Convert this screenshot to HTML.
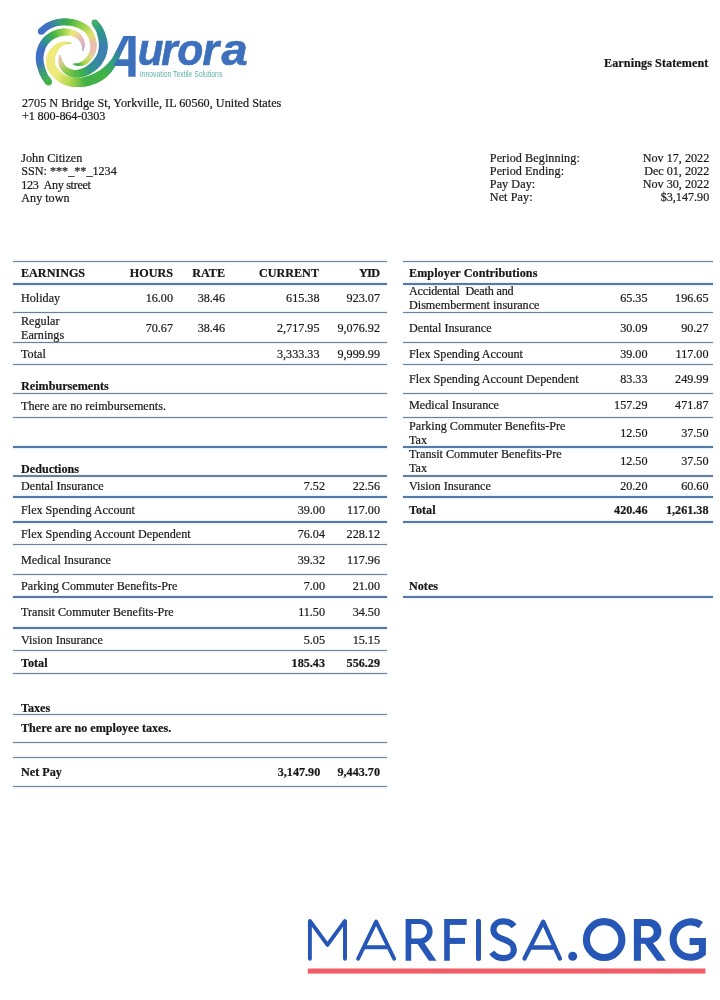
<!DOCTYPE html>
<html><head><meta charset="utf-8"><title>Earnings Statement</title>
<style>
html,body{margin:0;padding:0;background:#fff;}
body{width:720px;height:1000px;position:relative;overflow:hidden;font-family:"Liberation Serif",serif;font-size:12.15px;color:#161616;-webkit-text-stroke:0.22px #262626;}
.t{position:absolute;white-space:nowrap;line-height:14px;}
.b{font-weight:bold;}
.r{text-align:right;}
.ln{position:absolute;height:1.3px;background:#6a8198;box-shadow:0 0 1.2px 0.2px rgba(150,185,225,.55);}
.ln.k{height:2.2px;background:#567aa5;box-shadow:0 0 1.2px 0.2px rgba(150,190,235,.6);}
svg{position:absolute;overflow:visible;}
#doc{position:absolute;left:0;top:0;width:720px;height:1000px;filter:blur(0.35px);}
</style></head><body>
<svg width="720" height="100" viewBox="0 0 720 100" style="left:0;top:0">
<defs><clipPath id="a3c"><rect x="0" y="0" width="112" height="100"/><rect x="0" y="36.1" width="720" height="64"/></clipPath><filter id="lb" x="-5%" y="-5%" width="110%" height="110%"><feGaussianBlur stdDeviation="0.55"/></filter></defs>
<g filter="url(#lb)">
<g clip-path="url(#a3c)"><polygon points="71.7,43.0 71.0,42.8 70.2,42.6 70.1,43.9 71.0,43.8 71.7,43.6" fill="#b8d951"/>
<polygon points="71.0,42.8 70.2,42.6 69.1,42.3 69.0,44.0 70.1,43.9 71.0,43.8" fill="#c1db58"/>
<polygon points="70.2,42.6 69.1,42.3 67.9,42.0 67.8,44.1 69.0,44.0 70.1,43.9" fill="#c9de5e"/>
<polygon points="69.1,42.3 67.9,42.0 66.5,41.8 66.6,44.3 67.8,44.1 69.0,44.0" fill="#d2e165"/>
<polygon points="67.9,42.0 66.5,41.8 65.2,41.7 65.4,44.5 66.6,44.3 67.8,44.1" fill="#dbe36c"/>
<polygon points="66.5,41.8 65.2,41.7 63.8,41.7 64.4,44.8 65.4,44.5 66.6,44.3" fill="#e3e673"/>
<polygon points="65.2,41.7 63.8,41.7 62.5,41.8 63.5,45.2 64.4,44.8 65.4,44.5" fill="#ece979"/>
<polygon points="63.8,41.7 62.5,41.8 61.2,42.0 62.7,45.7 63.5,45.2 64.4,44.8" fill="#efea7c"/>
<polygon points="62.5,41.8 61.2,42.0 60.0,42.4 61.9,46.3 62.7,45.7 63.5,45.2" fill="#efea7c"/>
<polygon points="61.2,42.0 60.0,42.4 58.8,42.8 61.1,46.9 61.9,46.3 62.7,45.7" fill="#efea7c"/>
<polygon points="60.0,42.4 58.8,42.8 57.6,43.3 60.4,47.6 61.1,46.9 61.9,46.3" fill="#efea7c"/>
<polygon points="58.8,42.8 57.6,43.3 56.4,43.9 59.7,48.3 60.4,47.6 61.1,46.9" fill="#efea7c"/>
<polygon points="57.6,43.3 56.4,43.9 55.2,44.6 59.1,49.0 59.7,48.3 60.4,47.6" fill="#efea7c"/>
<polygon points="56.4,43.9 55.2,44.6 54.1,45.5 58.5,49.8 59.1,49.0 59.7,48.3" fill="#efea7c"/>
<polygon points="55.2,44.6 54.1,45.5 53.0,46.4 58.0,50.6 58.5,49.8 59.1,49.0" fill="#efea7c"/>
<polygon points="54.1,45.5 53.0,46.4 52.0,47.4 57.5,51.5 58.0,50.6 58.5,49.8" fill="#efea7c"/>
<polygon points="53.0,46.4 52.0,47.4 51.0,48.6 57.0,52.5 57.5,51.5 58.0,50.6" fill="#efea7c"/>
<polygon points="52.0,47.4 51.0,48.6 50.1,49.8 56.5,53.5 57.0,52.5 57.5,51.5" fill="#efea7c"/>
<polygon points="51.0,48.6 50.1,49.8 49.3,51.2 56.0,54.6 56.5,53.5 57.0,52.5" fill="#efea7c"/>
<polygon points="50.1,49.8 49.3,51.2 48.5,52.5 55.6,55.7 56.0,54.6 56.5,53.5" fill="#efea7c"/>
<polygon points="49.3,51.2 48.5,52.5 47.7,54.0 55.3,56.8 55.6,55.7 56.0,54.6" fill="#efea7c"/>
<polygon points="48.5,52.5 47.7,54.0 47.1,55.4 55.1,57.8 55.3,56.8 55.6,55.7" fill="#efea7c"/>
<polygon points="47.7,54.0 47.1,55.4 46.6,56.9 55.0,58.7 55.1,57.8 55.3,56.8" fill="#efea7c"/>
<polygon points="47.1,55.4 46.6,56.9 46.3,58.4 54.9,59.5 55.0,58.7 55.1,57.8" fill="#efea7c"/>
<polygon points="46.6,56.9 46.3,58.4 46.2,59.9 54.8,60.4 54.9,59.5 55.0,58.7" fill="#efea7c"/>
<polygon points="46.3,58.4 46.2,59.9 46.2,61.4 54.8,61.3 54.8,60.4 54.9,59.5" fill="#efea7c"/>
<polygon points="46.2,59.9 46.2,61.4 46.2,62.9 54.8,62.2 54.8,61.3 54.8,60.4" fill="#efea7c"/>
<polygon points="46.2,61.4 46.2,62.9 46.4,64.4 55.0,63.1 54.8,62.2 54.8,61.3" fill="#efea7c"/>
<polygon points="46.2,62.9 46.4,64.4 46.6,65.8 55.1,63.9 55.0,63.1 54.8,62.2" fill="#efea7c"/>
<polygon points="46.4,64.4 46.6,65.8 47.0,67.2 55.3,64.8 55.1,63.9 55.0,63.1" fill="#efea7c"/>
<polygon points="46.6,65.8 47.0,67.2 47.4,68.5 55.6,65.5 55.3,64.8 55.1,63.9" fill="#efea7c"/>
<polygon points="47.0,67.2 47.4,68.5 48.0,69.9 55.8,66.1 55.6,65.5 55.3,64.8" fill="#efea7c"/>
<polygon points="47.4,68.5 48.0,69.9 48.7,71.2 56.2,66.7 55.8,66.1 55.6,65.5" fill="#efea7c"/>
<polygon points="48.0,69.9 48.7,71.2 49.5,72.3 56.6,67.3 56.2,66.7 55.8,66.1" fill="#efea7c"/>
<polygon points="48.7,71.2 49.5,72.3 50.3,73.4 57.1,68.0 56.6,67.3 56.2,66.7" fill="#efea7c"/>
<polygon points="49.5,72.3 50.3,73.4 51.1,74.4 57.7,68.7 57.1,68.0 56.6,67.3" fill="#efea7c"/>
<polygon points="50.3,73.4 51.1,74.4 51.9,75.3 58.3,69.4 57.7,68.7 57.1,68.0" fill="#efea7c"/>
<polygon points="51.1,74.4 51.9,75.3 52.7,76.2 59.0,70.1 58.3,69.4 57.7,68.7" fill="#efea7c"/>
<polygon points="51.9,75.3 52.7,76.2 53.4,77.0 59.8,70.8 59.0,70.1 58.3,69.4" fill="#efea7c"/>
<polygon points="52.7,76.2 53.4,77.0 54.2,77.8 60.5,71.5 59.8,70.8 59.0,70.1" fill="#efea7c"/>
<polygon points="53.4,77.0 54.2,77.8 55.1,78.6 61.1,72.2 60.5,71.5 59.8,70.8" fill="#efea7c"/>
<polygon points="54.2,77.8 55.1,78.6 55.9,79.4 61.8,72.8 61.1,72.2 60.5,71.5" fill="#ebe979"/>
<polygon points="55.1,78.6 55.9,79.4 56.9,80.2 62.5,73.4 61.8,72.8 61.1,72.2" fill="#e7e776"/>
<polygon points="55.9,79.4 56.9,80.2 57.8,81.0 63.2,73.9 62.5,73.4 61.8,72.8" fill="#e3e672"/>
<polygon points="56.9,80.2 57.8,81.0 58.9,81.8 63.9,74.4 63.2,73.9 62.5,73.4" fill="#dee56f"/>
<polygon points="57.8,81.0 58.9,81.8 60.0,82.5 64.6,74.9 63.9,74.4 63.2,73.9" fill="#dae36c"/>
<polygon points="58.9,81.8 60.0,82.5 61.1,83.1 65.3,75.3 64.6,74.9 63.9,74.4" fill="#d6e268"/>
<polygon points="60.0,82.5 61.1,83.1 62.3,83.7 66.1,75.7 65.3,75.3 64.6,74.9" fill="#d1e165"/>
<polygon points="61.1,83.1 62.3,83.7 63.4,84.3 66.9,76.0 66.1,75.7 65.3,75.3" fill="#cddf61"/>
<polygon points="62.3,83.7 63.4,84.3 64.7,84.7 67.8,76.3 66.9,76.0 66.1,75.7" fill="#c9de5e"/>
<polygon points="63.4,84.3 64.7,84.7 65.9,85.2 68.7,76.7 67.8,76.3 66.9,76.0" fill="#c4dd5b"/>
<polygon points="64.7,84.7 65.9,85.2 67.1,85.6 69.6,76.9 68.7,76.7 67.8,76.3" fill="#c0db57"/>
<polygon points="65.9,85.2 67.1,85.6 68.4,85.9 70.5,77.2 69.6,76.9 68.7,76.7" fill="#bcda54"/>
<polygon points="67.1,85.6 68.4,85.9 69.7,86.2 71.5,77.4 70.5,77.2 69.6,76.9" fill="#b7d951"/>
<polygon points="68.4,85.9 69.7,86.2 70.9,86.4 72.5,77.6 71.5,77.4 70.5,77.2" fill="#b3d74d"/>
<polygon points="69.7,86.2 70.9,86.4 72.2,86.7 73.4,77.7 72.5,77.6 71.5,77.4" fill="#aad44d"/>
<polygon points="70.9,86.4 72.2,86.7 73.6,86.8 74.4,77.8 73.4,77.7 72.5,77.6" fill="#a2d24c"/>
<polygon points="72.2,86.7 73.6,86.8 74.9,86.9 75.4,77.8 74.4,77.8 73.4,77.7" fill="#9acf4c"/>
<polygon points="73.6,86.8 74.9,86.9 76.2,87.0 76.5,77.9 75.4,77.8 74.4,77.8" fill="#91cc4b"/>
<polygon points="74.9,86.9 76.2,87.0 77.5,87.0 77.5,77.9 76.5,77.9 75.4,77.8" fill="#89c94b"/>
<polygon points="76.2,87.0 77.5,87.0 78.8,87.0 78.6,77.8 77.5,77.9 76.5,77.9" fill="#80c64a"/>
<polygon points="77.5,87.0 78.8,87.0 80.1,87.0 79.6,77.8 78.6,77.8 77.5,77.9" fill="#78c449"/>
<polygon points="78.8,87.0 80.1,87.0 81.4,86.9 80.6,77.7 79.6,77.8 78.6,77.8" fill="#70c149"/>
<polygon points="80.1,87.0 81.4,86.9 82.7,86.8 81.6,77.5 80.6,77.7 79.6,77.8" fill="#67be48"/>
<polygon points="81.4,86.9 82.7,86.8 83.9,86.7 82.5,77.4 81.6,77.5 80.6,77.7" fill="#5fbb48"/>
<polygon points="82.7,86.8 83.9,86.7 85.2,86.5 83.5,77.2 82.5,77.4 81.6,77.5" fill="#56b847"/>
<polygon points="83.9,86.7 85.2,86.5 86.4,86.3 84.4,77.0 83.5,77.2 82.5,77.4" fill="#4eb646"/>
<polygon points="85.2,86.5 86.4,86.3 87.6,86.0 85.4,76.8 84.4,77.0 83.5,77.2" fill="#46b346"/>
<polygon points="86.4,86.3 87.6,86.0 88.8,85.7 86.3,76.5 85.4,76.8 84.4,77.0" fill="#42b246"/>
<polygon points="87.6,86.0 88.8,85.7 90.0,85.4 87.3,76.2 86.3,76.5 85.4,76.8" fill="#42b246"/>
<polygon points="88.8,85.7 90.0,85.4 91.1,85.1 88.3,75.9 87.3,76.2 86.3,76.5" fill="#42b246"/>
<polygon points="90.0,85.4 91.1,85.1 92.3,84.7 89.2,75.6 88.3,75.9 87.3,76.2" fill="#42b246"/>
<polygon points="91.1,85.1 92.3,84.7 93.5,84.3 90.2,75.3 89.2,75.6 88.3,75.9" fill="#42b246"/>
<polygon points="92.3,84.7 93.5,84.3 94.7,83.8 91.1,74.9 90.2,75.3 89.2,75.6" fill="#42b246"/>
<polygon points="93.5,84.3 94.7,83.8 95.8,83.4 92.1,74.5 91.1,74.9 90.2,75.3" fill="#42b246"/>
<polygon points="94.7,83.8 95.8,83.4 97.0,82.9 93.0,74.1 92.1,74.5 91.1,74.9" fill="#42b246"/>
<polygon points="95.8,83.4 97.0,82.9 98.1,82.3 94.0,73.7 93.0,74.1 92.1,74.5" fill="#42b246"/>
<polygon points="97.0,82.9 98.1,82.3 99.2,81.8 94.8,73.2 94.0,73.7 93.0,74.1" fill="#42b246"/>
<polygon points="98.1,82.3 99.2,81.8 100.3,81.2 95.7,72.8 94.8,73.2 94.0,73.7" fill="#42b246"/>
<polygon points="99.2,81.8 100.3,81.2 101.4,80.6 96.5,72.3 95.7,72.8 94.8,73.2" fill="#42b246"/>
<polygon points="100.3,81.2 101.4,80.6 102.4,80.0 97.4,71.8 96.5,72.3 95.7,72.8" fill="#42b246"/>
<polygon points="101.4,80.6 102.4,80.0 103.4,79.3 98.2,71.4 97.4,71.8 96.5,72.3" fill="#42b246"/>
<polygon points="102.4,80.0 103.4,79.3 104.3,78.6 99.0,70.9 98.2,71.4 97.4,71.8" fill="#42b246"/>
<polygon points="103.4,79.3 104.3,78.6 105.3,77.9 99.8,70.4 99.0,70.9 98.2,71.4" fill="#42b246"/>
<polygon points="104.3,78.6 105.3,77.9 106.2,77.1 100.6,69.9 99.8,70.4 99.0,70.9" fill="#42b246"/>
<polygon points="105.3,77.9 106.2,77.1 107.1,76.4 101.4,69.3 100.6,69.9 99.8,70.4" fill="#42b246"/>
<polygon points="106.2,77.1 107.1,76.4 107.9,75.6 102.1,68.8 101.4,69.3 100.6,69.9" fill="#42b246"/>
<polygon points="107.1,76.4 107.9,75.6 108.7,74.8 102.8,68.2 102.1,68.8 101.4,69.3" fill="#41b147"/>
<polygon points="107.9,75.6 108.7,74.8 109.5,74.0 103.5,67.7 102.8,68.2 102.1,68.8" fill="#40b04c"/>
<polygon points="108.7,74.8 109.5,74.0 110.3,73.1 104.2,67.1 103.5,67.7 102.8,68.2" fill="#3faf50"/>
<polygon points="109.5,74.0 110.3,73.1 111.0,72.3 104.8,66.5 104.2,67.1 103.5,67.7" fill="#3ead54"/>
<polygon points="110.3,73.1 111.0,72.3 111.7,71.4 105.5,65.9 104.8,66.5 104.2,67.1" fill="#3dac58"/>
<polygon points="111.0,72.3 111.7,71.4 112.3,70.5 106.2,65.3 105.5,65.9 104.8,66.5" fill="#3cab5d"/>
<polygon points="111.7,71.4 112.3,70.5 112.9,69.7 106.8,64.6 106.2,65.3 105.5,65.9" fill="#3caa61"/>
<polygon points="112.3,70.5 112.9,69.7 113.5,68.8 107.5,64.0 106.8,64.6 106.2,65.3" fill="#3ba965"/>
<polygon points="112.9,69.7 113.5,68.8 114.1,68.0 108.1,63.3 107.5,64.0 106.8,64.6" fill="#3aa769"/>
<polygon points="113.5,68.8 114.1,68.0 114.6,67.1 108.7,62.7 108.1,63.3 107.5,64.0" fill="#39a66d"/>
<polygon points="114.1,68.0 114.6,67.1 115.2,66.2 109.3,62.0 108.7,62.7 108.1,63.3" fill="#38a572"/>
<polygon points="114.6,67.1 115.2,66.2 115.7,65.3 109.9,61.3 109.3,62.0 108.7,62.7" fill="#37a375"/>
<polygon points="115.2,66.2 115.7,65.3 116.2,64.4 110.5,60.7 109.9,61.3 109.3,62.0" fill="#36a279"/>
<polygon points="115.7,65.3 116.2,64.4 116.7,63.5 111.0,59.9 110.5,60.7 109.9,61.3" fill="#35a07c"/>
<polygon points="116.2,64.4 116.7,63.5 117.2,62.6 111.6,59.2 111.0,59.9 110.5,60.7" fill="#349e7f"/>
<polygon points="116.7,63.5 117.2,62.6 117.6,61.6 112.2,58.4 111.6,59.2 111.0,59.9" fill="#329c82"/>
<polygon points="117.2,62.6 117.6,61.6 118.1,60.5 112.7,57.6 112.2,58.4 111.6,59.2" fill="#319a85"/>
<polygon points="117.6,61.6 118.1,60.5 118.6,59.5 113.2,56.7 112.7,57.6 112.2,58.4" fill="#309888"/>
<polygon points="118.1,60.5 118.6,59.5 119.1,58.4 113.7,55.8 113.2,56.7 112.7,57.6" fill="#2f978c"/>
<polygon points="118.6,59.5 119.1,58.4 119.6,57.3 114.2,54.8 113.7,55.8 113.2,56.7" fill="#2f9490"/>
<polygon points="119.1,58.4 119.6,57.3 120.0,56.3 114.7,53.8 114.2,54.8 113.7,55.8" fill="#319094"/>
<polygon points="119.6,57.3 120.0,56.3 120.5,55.2 115.2,52.8 114.7,53.8 114.2,54.8" fill="#328c99"/>
<polygon points="120.0,56.3 120.5,55.2 120.9,54.2 115.7,51.8 115.2,52.8 114.7,53.8" fill="#34889e"/>
<polygon points="120.5,55.2 120.9,54.2 121.3,53.2 116.3,50.8 115.7,51.8 115.2,52.8" fill="#3584a3"/>
<polygon points="120.9,54.2 121.3,53.2 121.8,52.3 116.8,49.8 116.3,50.8 115.7,51.8" fill="#3780a8"/>
<polygon points="121.3,53.2 121.8,52.3 122.3,51.3 117.2,48.8 116.8,49.8 116.3,50.8" fill="#397cad"/>
<polygon points="121.8,52.3 122.3,51.3 122.7,50.3 117.7,47.9 117.2,48.8 116.8,49.8" fill="#3a78b1"/>
<polygon points="122.3,51.3 122.7,50.3 123.2,49.4 118.2,46.9 117.7,47.9 117.2,48.8" fill="#3c74b6"/>
<polygon points="122.7,50.3 123.2,49.4 123.7,48.4 118.7,46.0 118.2,46.9 117.7,47.9" fill="#3d70bb"/>
<polygon points="123.2,49.4 123.7,48.4 124.1,47.5 119.1,45.0 118.7,46.0 118.2,46.9" fill="#3e70bc"/>
<polygon points="123.7,48.4 124.1,47.5 124.6,46.5 119.6,44.0 119.1,45.0 118.7,46.0" fill="#3e70bc"/>
<polygon points="124.1,47.5 124.6,46.5 125.1,45.5 120.1,43.1 119.6,44.0 119.1,45.0" fill="#3e70bc"/>
<polygon points="124.6,46.5 125.1,45.5 125.6,44.5 120.6,42.0 120.1,43.1 119.6,44.0" fill="#3e70bc"/>
<polygon points="125.1,45.5 125.6,44.5 126.1,43.5 121.1,41.0 120.6,42.0 120.1,43.1" fill="#3e70bc"/>
<polygon points="125.6,44.5 126.1,43.5 126.7,42.4 121.7,39.9 121.1,41.0 120.6,42.0" fill="#3e70bc"/>
<polygon points="126.1,43.5 126.7,42.4 127.2,41.3 122.2,38.8 121.7,39.9 121.1,41.0" fill="#3e70bc"/>
<polygon points="126.7,42.4 127.2,41.3 127.7,40.3 122.8,37.8 122.2,38.8 121.7,39.9" fill="#3e70bc"/>
<polygon points="127.2,41.3 127.7,40.3 128.2,39.3 123.3,36.8 122.8,37.8 122.2,38.8" fill="#3e70bc"/>
<polygon points="127.7,40.3 128.2,39.3 128.7,38.4 123.7,35.9 123.3,36.8 122.8,37.8" fill="#3e70bc"/>
<polygon points="128.2,39.3 128.7,38.4 129.1,37.5 124.1,35.1 123.7,35.9 123.3,36.8" fill="#3e70bc"/>
<polygon points="128.7,38.4 129.1,37.5 129.4,36.8 124.5,34.3 124.1,35.1 123.7,35.9" fill="#3e70bc"/>
<polygon points="129.1,37.5 129.4,36.8 129.8,36.2 124.8,33.7 124.5,34.3 124.1,35.1" fill="#3e70bc"/>
<polygon points="129.4,36.8 129.8,36.2 130.1,35.6 125.1,33.1 124.8,33.7 124.5,34.3" fill="#3e70bc"/>
<polygon points="129.8,36.2 130.1,35.6 130.3,35.0 125.4,32.6 125.1,33.1 124.8,33.7" fill="#3e70bc"/>
<polygon points="130.1,35.6 130.3,35.0 130.5,34.6 125.6,32.1 125.4,32.6 125.1,33.1" fill="#3e70bc"/>
<polygon points="130.3,35.0 130.5,34.6 130.8,34.2 125.8,31.7 125.6,32.1 125.4,32.6" fill="#3e70bc"/>
<polygon points="130.5,34.6 130.8,34.2 130.9,33.8 126.0,31.4 125.8,31.7 125.6,32.1" fill="#3e70bc"/>
<polygon points="130.8,34.2 130.9,33.8 131.1,33.5 126.1,31.1 126.0,31.4 125.8,31.7" fill="#3e70bc"/>
<polygon points="130.9,33.8 131.1,33.5 131.1,33.5 126.1,31.1 126.1,31.1 126.0,31.4" fill="#3e70bc"/></g>
<polygon points="92.2,24.7 92.6,25.3 93.1,26.0 98.4,22.0 97.8,21.4 97.4,20.9" fill="#3eac6b"/>
<polygon points="92.6,25.3 93.1,26.0 93.6,26.9 99.0,22.8 98.4,22.0 97.8,21.4" fill="#3caa6f"/>
<polygon points="93.1,26.0 93.6,26.9 94.2,27.8 99.8,23.8 99.0,22.8 98.4,22.0" fill="#3aa773"/>
<polygon points="93.6,26.9 94.2,27.8 94.8,28.8 100.6,24.8 99.8,23.8 99.0,22.8" fill="#39a577"/>
<polygon points="94.2,27.8 94.8,28.8 95.4,29.7 101.4,26.0 100.6,24.8 99.8,23.8" fill="#37a27a"/>
<polygon points="94.8,28.8 95.4,29.7 95.9,30.7 102.2,27.2 101.4,26.0 100.6,24.8" fill="#35a07e"/>
<polygon points="95.4,29.7 95.9,30.7 96.3,31.6 102.9,28.4 102.2,27.2 101.4,26.0" fill="#349d82"/>
<polygon points="95.9,30.7 96.3,31.6 96.7,32.5 103.5,29.7 102.9,28.4 102.2,27.2" fill="#329b86"/>
<polygon points="96.3,31.6 96.7,32.5 97.0,33.6 104.1,31.0 103.5,29.7 102.9,28.4" fill="#309889"/>
<polygon points="96.7,32.5 97.0,33.6 97.4,34.8 104.6,32.3 104.1,31.0 103.5,29.7" fill="#2f968d"/>
<polygon points="97.0,33.6 97.4,34.8 97.7,36.0 105.1,33.7 104.6,32.3 104.1,31.0" fill="#2f9490"/>
<polygon points="97.4,34.8 97.7,36.0 98.0,37.2 105.6,35.0 105.1,33.7 104.6,32.3" fill="#309293"/>
<polygon points="97.7,36.0 98.0,37.2 98.3,38.4 106.0,36.4 105.6,35.0 105.1,33.7" fill="#319195"/>
<polygon points="98.0,37.2 98.3,38.4 98.5,39.5 106.4,37.7 106.0,36.4 105.6,35.0" fill="#328f98"/>
<polygon points="98.3,38.4 98.5,39.5 98.7,40.6 106.7,39.0 106.4,37.7 106.0,36.4" fill="#338e9a"/>
<polygon points="98.5,39.5 98.7,40.6 98.8,41.6 107.0,40.2 106.7,39.0 106.4,37.7" fill="#348c9d"/>
<polygon points="98.7,40.6 98.8,41.6 98.9,42.5 107.3,41.5 107.0,40.2 106.7,39.0" fill="#358aa0"/>
<polygon points="98.8,41.6 98.9,42.5 98.9,43.4 107.4,42.7 107.3,41.5 107.0,40.2" fill="#3689a2"/>
<polygon points="98.9,42.5 98.9,43.4 98.9,44.3 107.5,43.8 107.4,42.7 107.3,41.5" fill="#3787a5"/>
<polygon points="98.9,43.4 98.9,44.3 99.0,45.2 107.6,45.0 107.5,43.8 107.4,42.7" fill="#3786a8"/>
<polygon points="98.9,44.3 99.0,45.2 99.0,46.0 107.6,46.1 107.6,45.0 107.5,43.8" fill="#3884aa"/>
<polygon points="99.0,45.2 99.0,46.0 98.9,46.9 107.6,47.2 107.6,46.1 107.6,45.0" fill="#3982ad"/>
<polygon points="99.0,46.0 98.9,46.9 98.9,47.7 107.5,48.3 107.6,47.2 107.6,46.1" fill="#3a81b0"/>
<polygon points="98.9,46.9 98.9,47.7 98.8,48.5 107.4,49.4 107.5,48.3 107.6,47.2" fill="#3b7fb2"/>
<polygon points="98.9,47.7 98.8,48.5 98.7,49.2 107.3,50.5 107.4,49.4 107.5,48.3" fill="#3b7fb3"/>
<polygon points="98.8,48.5 98.7,49.2 98.6,50.0 107.1,51.5 107.3,50.5 107.4,49.4" fill="#3b7fb2"/>
<polygon points="98.7,49.2 98.6,50.0 98.4,50.7 106.9,52.6 107.1,51.5 107.3,50.5" fill="#3b80b1"/>
<polygon points="98.6,50.0 98.4,50.7 98.3,51.4 106.7,53.6 106.9,52.6 107.1,51.5" fill="#3b80b1"/>
<polygon points="98.4,50.7 98.3,51.4 98.1,52.1 106.4,54.7 106.7,53.6 106.9,52.6" fill="#3b81b0"/>
<polygon points="98.3,51.4 98.1,52.1 97.8,52.8 106.0,55.7 106.4,54.7 106.7,53.6" fill="#3b81af"/>
<polygon points="98.1,52.1 97.8,52.8 97.6,53.5 105.6,56.7 106.0,55.7 106.4,54.7" fill="#3b82ae"/>
<polygon points="97.8,52.8 97.6,53.5 97.2,54.2 105.2,57.8 105.6,56.7 106.0,55.7" fill="#3b82ad"/>
<polygon points="97.6,53.5 97.2,54.2 96.9,54.9 104.7,58.8 105.2,57.8 105.6,56.7" fill="#3b83ac"/>
<polygon points="97.2,54.2 96.9,54.9 96.5,55.7 104.2,59.8 104.7,58.8 105.2,57.8" fill="#3b83ac"/>
<polygon points="96.9,54.9 96.5,55.7 96.1,56.4 103.6,60.8 104.2,59.8 104.7,58.8" fill="#3b84ab"/>
<polygon points="96.5,55.7 96.1,56.4 95.6,57.2 103.0,61.8 103.6,60.8 104.2,59.8" fill="#3b84aa"/>
<polygon points="96.1,56.4 95.6,57.2 95.1,57.9 102.4,62.8 103.0,61.8 103.6,60.8" fill="#3b85a9"/>
<polygon points="95.6,57.2 95.1,57.9 94.6,58.6 101.8,63.8 102.4,62.8 103.0,61.8" fill="#3b85a8"/>
<polygon points="95.1,57.9 94.6,58.6 94.1,59.3 101.1,64.7 101.8,63.8 102.4,62.8" fill="#3a86a7"/>
<polygon points="94.6,58.6 94.1,59.3 93.6,60.0 100.4,65.6 101.1,64.7 101.8,63.8" fill="#3987a5"/>
<polygon points="94.1,59.3 93.6,60.0 93.0,60.6 99.7,66.4 100.4,65.6 101.1,64.7" fill="#3888a3"/>
<polygon points="93.6,60.0 93.0,60.6 92.5,61.2 98.9,67.2 99.7,66.4 100.4,65.6" fill="#378aa1"/>
<polygon points="93.0,60.6 92.5,61.2 91.9,61.9 98.1,68.0 98.9,67.2 99.7,66.4" fill="#368b9e"/>
<polygon points="92.5,61.2 91.9,61.9 91.3,62.5 97.3,68.8 98.1,68.0 98.9,67.2" fill="#358d9c"/>
<polygon points="91.9,61.9 91.3,62.5 90.7,63.1 96.4,69.6 97.3,68.8 98.1,68.0" fill="#348e9a"/>
<polygon points="91.3,62.5 90.7,63.1 90.1,63.6 95.5,70.3 96.4,69.6 97.3,68.8" fill="#338f97"/>
<polygon points="90.7,63.1 90.1,63.6 89.4,64.2 94.6,71.0 95.5,70.3 96.4,69.6" fill="#329195"/>
<polygon points="90.1,63.6 89.4,64.2 88.7,64.8 93.6,71.6 94.6,71.0 95.5,70.3" fill="#319293"/>
<polygon points="89.4,64.2 88.7,64.8 87.9,65.4 92.7,72.3 93.6,71.6 94.6,71.0" fill="#309491"/>
<polygon points="88.7,64.8 87.9,65.4 87.1,65.9 91.6,73.0 92.7,72.3 93.6,71.6" fill="#2f958e"/>
<polygon points="87.9,65.4 87.1,65.9 86.3,66.5 90.6,73.6 91.6,73.0 92.7,72.3" fill="#309789"/>
<polygon points="87.1,65.9 86.3,66.5 85.5,67.0 89.5,74.2 90.6,73.6 91.6,73.0" fill="#329a82"/>
<polygon points="86.3,66.5 85.5,67.0 84.7,67.5 88.3,74.8 89.5,74.2 90.6,73.6" fill="#349d7a"/>
<polygon points="85.5,67.0 84.7,67.5 83.9,67.9 87.2,75.3 88.3,74.8 89.5,74.2" fill="#36a073"/>
<polygon points="84.7,67.5 83.9,67.9 83.0,68.2 86.0,75.8 87.2,75.3 88.3,74.8" fill="#38a36b"/>
<polygon points="83.9,67.9 83.0,68.2 82.2,68.6 84.7,76.2 86.0,75.8 87.2,75.3" fill="#3aa664"/>
<polygon points="83.0,68.2 82.2,68.6 81.3,68.9 83.5,76.5 84.7,76.2 86.0,75.8" fill="#3ca95c"/>
<polygon points="82.2,68.6 81.3,68.9 80.3,69.2 82.2,76.8 83.5,76.5 84.7,76.2" fill="#3eac55"/>
<polygon points="81.3,68.9 80.3,69.2 79.3,69.5 81.0,77.1 82.2,76.8 83.5,76.5" fill="#3faf4d"/>
<polygon points="80.3,69.2 79.3,69.5 78.4,69.7 79.7,77.3 81.0,77.1 82.2,76.8" fill="#41b146"/>
<polygon points="79.3,69.5 78.4,69.7 77.4,69.8 78.4,77.5 79.7,77.3 81.0,77.1" fill="#46b346"/>
<polygon points="78.4,69.7 77.4,69.8 76.6,70.0 77.1,77.6 78.4,77.5 79.7,77.3" fill="#4bb546"/>
<polygon points="77.4,69.8 76.6,70.0 75.8,70.0 75.8,77.6 77.1,77.6 78.4,77.5" fill="#50b747"/>
<polygon points="76.6,70.0 75.8,70.0 75.1,70.0 74.5,77.5 75.8,77.6 77.1,77.6" fill="#55b847"/>
<polygon points="75.8,70.0 75.1,70.0 74.3,70.0 73.3,77.4 74.5,77.5 75.8,77.6" fill="#59ba47"/>
<polygon points="75.1,70.0 74.3,70.0 73.6,69.9 72.1,77.1 73.3,77.4 74.5,77.5" fill="#5ebc48"/>
<polygon points="74.3,70.0 73.6,69.9 72.8,69.8 71.0,76.8 72.1,77.1 73.3,77.4" fill="#63bd48"/>
<polygon points="73.6,69.9 72.8,69.8 72.1,69.6 69.9,76.4 71.0,76.8 72.1,77.1" fill="#68bf49"/>
<polygon points="72.8,69.8 72.1,69.6 71.4,69.4 68.9,76.0 69.9,76.4 71.0,76.8" fill="#6dc149"/>
<polygon points="72.1,69.6 71.4,69.4 70.7,69.2 67.9,75.5 68.9,76.0 69.9,76.4" fill="#72c249"/>
<polygon points="71.4,69.4 70.7,69.2 70.0,69.0 67.0,75.0 67.9,75.5 68.9,76.0" fill="#76c44a"/>
<polygon points="70.7,69.2 70.0,69.0 69.4,68.8 66.1,74.4 67.0,75.0 67.9,75.5" fill="#7bc64a"/>
<polygon points="70.0,69.0 69.4,68.8 68.8,68.5 65.2,73.8 66.1,74.4 67.0,75.0" fill="#80c74b"/>
<polygon points="69.4,68.8 68.8,68.5 68.2,68.1 64.4,73.1 65.2,73.8 66.1,74.4" fill="#85c94b"/>
<polygon points="68.8,68.5 68.2,68.1 67.6,67.8 63.6,72.4 64.4,73.1 65.2,73.8" fill="#8acb4b"/>
<polygon points="68.2,68.1 67.6,67.8 67.1,67.3 62.9,71.6 63.6,72.4 64.4,73.1" fill="#90cc4f"/>
<polygon points="67.6,67.8 67.1,67.3 66.5,66.9 62.3,70.9 62.9,71.6 63.6,72.4" fill="#96cc55"/>
<polygon points="67.1,67.3 66.5,66.9 66.0,66.4 61.7,70.1 62.3,70.9 62.9,71.6" fill="#9dcc5b"/>
<polygon points="66.5,66.9 66.0,66.4 65.5,65.9 61.1,69.3 61.7,70.1 62.3,70.9" fill="#a3cc61"/>
<polygon points="66.0,66.4 65.5,65.9 65.1,65.4 60.6,68.4 61.1,69.3 61.7,70.1" fill="#aacc67"/>
<polygon points="65.5,65.9 65.1,65.4 64.7,64.9 60.1,67.5 60.6,68.4 61.1,69.3" fill="#b1cc6d"/>
<polygon points="65.1,65.4 64.7,64.9 64.3,64.3 59.7,66.6 60.1,67.5 60.6,68.4" fill="#b7cc73"/>
<polygon points="64.7,64.9 64.3,64.3 63.9,63.7 59.3,65.7 59.7,66.6 60.1,67.5" fill="#becc78"/>
<polygon points="64.3,64.3 63.9,63.7 63.5,63.0 59.0,64.8 59.3,65.7 59.7,66.6" fill="#c4cc7e"/>
<polygon points="63.9,63.7 63.5,63.0 63.2,62.3 58.8,63.9 59.0,64.8 59.3,65.7" fill="#cbcc84"/>
<polygon points="63.5,63.0 63.2,62.3 62.8,61.6 58.6,62.9 58.8,63.9 59.0,64.8" fill="#d2cc8a"/>
<polygon points="63.2,62.3 62.8,61.6 62.4,61.0 58.6,62.0 58.6,62.9 58.8,63.9" fill="#d8cb90"/>
<polygon points="62.8,61.6 62.4,61.0 62.1,60.3 58.6,61.0 58.6,62.0 58.6,62.9" fill="#daca93"/>
<polygon points="62.4,61.0 62.1,60.3 61.8,59.6 58.6,60.0 58.6,61.0 58.6,62.0" fill="#dcc897"/>
<polygon points="62.1,60.3 61.8,59.6 61.5,58.7 58.7,59.0 58.6,60.0 58.6,61.0" fill="#dec79a"/>
<polygon points="61.8,59.6 61.5,58.7 61.2,57.9 58.8,58.0 58.7,59.0 58.6,60.0" fill="#e0c69e"/>
<polygon points="61.5,58.7 61.2,57.9 61.0,57.0 59.0,57.1 58.8,58.0 58.7,59.0" fill="#e2c4a2"/>
<polygon points="61.2,57.9 61.0,57.0 60.8,56.2 59.2,56.3 59.0,57.1 58.8,58.0" fill="#e4c3a5"/>
<polygon points="61.0,57.0 60.8,56.2 60.5,55.6 59.3,55.6 59.2,56.3 59.0,57.1" fill="#e6c1a9"/>
<polygon points="60.8,56.2 60.5,55.6 60.3,55.1 59.5,55.1 59.3,55.6 59.2,56.3" fill="#e8c0ac"/>
<polygon points="60.5,55.6 60.3,55.1 60.3,55.1 59.5,55.1 59.5,55.1 59.3,55.6" fill="#eabeb0"/>
<circle cx="94.8" cy="22.8" r="3.2" fill="#3fae6a"/>
<polygon points="51.4,80.0 51.0,79.5 50.5,78.8 45.0,82.9 45.5,83.5 45.8,84.0" fill="#41b148"/>
<polygon points="51.0,79.5 50.5,78.8 50.0,78.1 44.4,82.1 45.0,82.9 45.5,83.5" fill="#41af4c"/>
<polygon points="50.5,78.8 50.0,78.1 49.4,77.2 43.8,81.3 44.4,82.1 45.0,82.9" fill="#41ad50"/>
<polygon points="50.0,78.1 49.4,77.2 48.8,76.4 43.1,80.3 43.8,81.3 44.4,82.1" fill="#40ac54"/>
<polygon points="49.4,77.2 48.8,76.4 48.2,75.5 42.4,79.3 43.1,80.3 43.8,81.3" fill="#40aa59"/>
<polygon points="48.8,76.4 48.2,75.5 47.7,74.7 41.7,78.2 42.4,79.3 43.1,80.3" fill="#40a85d"/>
<polygon points="48.2,75.5 47.7,74.7 47.3,73.9 41.1,77.1 41.7,78.2 42.4,79.3" fill="#3fa761"/>
<polygon points="47.7,74.7 47.3,73.9 46.9,73.1 40.6,76.1 41.1,77.1 41.7,78.2" fill="#3fa565"/>
<polygon points="47.3,73.9 46.9,73.1 46.6,72.2 40.1,75.0 40.6,76.1 41.1,77.1" fill="#3fa36a"/>
<polygon points="46.9,73.1 46.6,72.2 46.2,71.3 39.6,73.9 40.1,75.0 40.6,76.1" fill="#3fa06f"/>
<polygon points="46.6,72.2 46.2,71.3 45.8,70.4 39.2,72.8 39.6,73.9 40.1,75.0" fill="#3f9d76"/>
<polygon points="46.2,71.3 45.8,70.4 45.5,69.4 38.8,71.7 39.2,72.8 39.6,73.9" fill="#3f997c"/>
<polygon points="45.8,70.4 45.5,69.4 45.2,68.4 38.4,70.7 38.8,71.7 39.2,72.8" fill="#3f9583"/>
<polygon points="45.5,69.4 45.2,68.4 44.9,67.5 38.1,69.6 38.4,70.7 38.8,71.7" fill="#409189"/>
<polygon points="45.2,68.4 44.9,67.5 44.6,66.6 37.8,68.6 38.1,69.6 38.4,70.7" fill="#408d90"/>
<polygon points="44.9,67.5 44.6,66.6 44.4,65.7 37.5,67.7 37.8,68.6 38.1,69.6" fill="#408a96"/>
<polygon points="44.6,66.6 44.4,65.7 44.2,64.8 37.2,66.7 37.5,67.7 37.8,68.6" fill="#40869d"/>
<polygon points="44.4,65.7 44.2,64.8 44.0,64.0 36.9,65.7 37.2,66.7 37.5,67.7" fill="#4082a3"/>
<polygon points="44.2,64.8 44.0,64.0 43.8,63.2 36.7,64.8 36.9,65.7 37.2,66.7" fill="#417eaa"/>
<polygon points="44.0,64.0 43.8,63.2 43.7,62.4 36.5,63.8 36.7,64.8 36.9,65.7" fill="#417bb1"/>
<polygon points="43.8,63.2 43.7,62.4 43.5,61.7 36.3,62.8 36.5,63.8 36.7,64.8" fill="#4177b7"/>
<polygon points="43.7,62.4 43.5,61.7 43.4,60.9 36.1,61.8 36.3,62.8 36.5,63.8" fill="#4173be"/>
<polygon points="43.5,61.7 43.4,60.9 43.4,60.2 36.0,60.8 36.1,61.8 36.3,62.8" fill="#4270c4"/>
<polygon points="43.4,60.9 43.4,60.2 43.3,59.4 35.9,59.8 36.0,60.8 36.1,61.8" fill="#4270c4"/>
<polygon points="43.4,60.2 43.3,59.4 43.3,58.7 35.9,58.9 35.9,59.8 36.0,60.8" fill="#4270c4"/>
<polygon points="43.3,59.4 43.3,58.7 43.3,58.0 35.9,57.9 35.9,58.9 35.9,59.8" fill="#4270c4"/>
<polygon points="43.3,58.7 43.3,58.0 43.3,57.3 35.9,57.0 35.9,57.9 35.9,58.9" fill="#4270c4"/>
<polygon points="43.3,58.0 43.3,57.3 43.4,56.6 35.9,56.0 35.9,57.0 35.9,57.9" fill="#4270c4"/>
<polygon points="43.3,57.3 43.4,56.6 43.5,55.8 36.0,55.0 35.9,56.0 35.9,57.0" fill="#4270c4"/>
<polygon points="43.4,56.6 43.5,55.8 43.6,55.1 36.1,54.0 36.0,55.0 35.9,56.0" fill="#4270c4"/>
<polygon points="43.5,55.8 43.6,55.1 43.7,54.4 36.3,53.0 36.1,54.0 36.0,55.0" fill="#4270c4"/>
<polygon points="43.6,55.1 43.7,54.4 43.9,53.6 36.5,52.0 36.3,53.0 36.1,54.0" fill="#4270c4"/>
<polygon points="43.7,54.4 43.9,53.6 44.1,52.7 36.7,51.0 36.5,52.0 36.3,53.0" fill="#4270c4"/>
<polygon points="43.9,53.6 44.1,52.7 44.3,51.9 36.9,50.0 36.7,51.0 36.5,52.0" fill="#4270c4"/>
<polygon points="44.1,52.7 44.3,51.9 44.5,51.1 37.2,48.9 36.9,50.0 36.7,51.0" fill="#4270c4"/>
<polygon points="44.3,51.9 44.5,51.1 44.7,50.3 37.6,47.9 37.2,48.9 36.9,50.0" fill="#4270c4"/>
<polygon points="44.5,51.1 44.7,50.3 45.0,49.5 37.9,46.9 37.6,47.9 37.2,48.9" fill="#4270c4"/>
<polygon points="44.7,50.3 45.0,49.5 45.3,48.7 38.3,45.8 37.9,46.9 37.6,47.9" fill="#4072c1"/>
<polygon points="45.0,49.5 45.3,48.7 45.6,48.0 38.8,44.8 38.3,45.8 37.9,46.9" fill="#3f75bb"/>
<polygon points="45.3,48.7 45.6,48.0 46.0,47.3 39.3,43.8 38.8,44.8 38.3,45.8" fill="#3d79b6"/>
<polygon points="45.6,48.0 46.0,47.3 46.3,46.6 39.8,42.9 39.3,43.8 38.8,44.8" fill="#3b7db1"/>
<polygon points="46.0,47.3 46.3,46.6 46.7,45.9 40.4,41.9 39.8,42.9 39.3,43.8" fill="#3981ab"/>
<polygon points="46.3,46.6 46.7,45.9 47.2,45.2 40.9,41.0 40.4,41.9 39.8,42.9" fill="#3784a6"/>
<polygon points="46.7,45.9 47.2,45.2 47.6,44.5 41.6,40.2 40.9,41.0 40.4,41.9" fill="#3588a0"/>
<polygon points="47.2,45.2 47.6,44.5 48.1,43.9 42.2,39.3 41.6,40.2 40.9,41.0" fill="#338c9b"/>
<polygon points="47.6,44.5 48.1,43.9 48.6,43.3 42.9,38.5 42.2,39.3 41.6,40.2" fill="#319096"/>
<polygon points="48.1,43.9 48.6,43.3 49.1,42.7 43.5,37.7 42.9,38.5 42.2,39.3" fill="#309390"/>
<polygon points="48.6,43.3 49.1,42.7 49.5,42.2 44.3,37.0 43.5,37.7 42.9,38.5" fill="#2f978b"/>
<polygon points="49.1,42.7 49.5,42.2 50.0,41.7 45.0,36.2 44.3,37.0 43.5,37.7" fill="#319984"/>
<polygon points="49.5,42.2 50.0,41.7 50.5,41.2 45.8,35.6 45.0,36.2 44.3,37.0" fill="#339c7e"/>
<polygon points="50.0,41.7 50.5,41.2 51.1,40.8 46.6,35.0 45.8,35.6 45.0,36.2" fill="#349e77"/>
<polygon points="50.5,41.2 51.1,40.8 51.6,40.4 47.3,34.4 46.6,35.0 45.8,35.6" fill="#36a171"/>
<polygon points="51.1,40.8 51.6,40.4 52.2,40.0 48.1,33.9 47.3,34.4 46.6,35.0" fill="#38a36a"/>
<polygon points="51.6,40.4 52.2,40.0 52.9,39.5 48.9,33.3 48.1,33.9 47.3,34.4" fill="#39a664"/>
<polygon points="52.2,40.0 52.9,39.5 53.5,39.1 49.7,32.9 48.9,33.3 48.1,33.9" fill="#3ba85e"/>
<polygon points="52.9,39.5 53.5,39.1 54.1,38.8 50.5,32.4 49.7,32.9 48.9,33.3" fill="#3dab57"/>
<polygon points="53.5,39.1 54.1,38.8 54.8,38.4 51.4,31.9 50.5,32.4 49.7,32.9" fill="#3fad51"/>
<polygon points="54.1,38.8 54.8,38.4 55.4,38.1 52.2,31.5 51.4,31.9 50.5,32.4" fill="#40b04a"/>
<polygon points="54.8,38.4 55.4,38.1 56.1,37.7 53.1,31.1 52.2,31.5 51.4,31.9" fill="#43b246"/>
<polygon points="55.4,38.1 56.1,37.7 56.8,37.4 54.0,30.7 53.1,31.1 52.2,31.5" fill="#4ab546"/>
<polygon points="56.1,37.7 56.8,37.4 57.5,37.2 54.9,30.4 54.0,30.7 53.1,31.1" fill="#51b747"/>
<polygon points="56.8,37.4 57.5,37.2 58.2,36.9 55.8,30.0 54.9,30.4 54.0,30.7" fill="#58ba47"/>
<polygon points="57.5,37.2 58.2,36.9 58.9,36.7 56.7,29.7 55.8,30.0 54.9,30.4" fill="#5fbd48"/>
<polygon points="58.2,36.9 58.9,36.7 59.6,36.4 57.7,29.5 56.7,29.7 55.8,30.0" fill="#66bf48"/>
<polygon points="58.9,36.7 59.6,36.4 60.3,36.2 58.7,29.2 57.7,29.5 56.7,29.7" fill="#6dc249"/>
<polygon points="59.6,36.4 60.3,36.2 61.1,36.1 59.6,29.0 58.7,29.2 57.7,29.5" fill="#73c449"/>
<polygon points="60.3,36.2 61.1,36.1 61.9,35.9 60.6,28.9 59.6,29.0 58.7,29.2" fill="#7ac74a"/>
<polygon points="61.1,36.1 61.9,35.9 62.6,35.7 61.6,28.7 60.6,28.9 59.6,29.0" fill="#81c94a"/>
<polygon points="61.9,35.9 62.6,35.7 63.4,35.6 62.7,28.6 61.6,28.7 60.6,28.9" fill="#88cc4b"/>
<polygon points="62.6,35.7 63.4,35.6 64.2,35.5 63.7,28.6 62.7,28.6 61.6,28.7" fill="#8fcf4c"/>
<polygon points="63.4,35.6 64.2,35.5 64.9,35.4 64.7,28.6 63.7,28.6 62.7,28.6" fill="#98d150"/>
<polygon points="64.2,35.5 64.9,35.4 65.6,35.4 65.7,28.6 64.7,28.6 63.7,28.6" fill="#a0d354"/>
<polygon points="64.9,35.4 65.6,35.4 66.4,35.4 66.7,28.7 65.7,28.6 64.7,28.6" fill="#a9d659"/>
<polygon points="65.6,35.4 66.4,35.4 67.2,35.4 67.7,28.8 66.7,28.7 65.7,28.6" fill="#b1d85d"/>
<polygon points="66.4,35.4 67.2,35.4 67.9,35.4 68.7,28.9 67.7,28.8 66.7,28.7" fill="#badb61"/>
<polygon points="67.2,35.4 67.9,35.4 68.7,35.5 69.7,29.1 68.7,28.9 67.7,28.8" fill="#c2dd65"/>
<polygon points="67.9,35.4 68.7,35.5 69.5,35.6 70.7,29.3 69.7,29.1 68.7,28.9" fill="#cbe06a"/>
<polygon points="68.7,35.5 69.5,35.6 70.2,35.7 71.6,29.5 70.7,29.3 69.7,29.1" fill="#d4e26e"/>
<polygon points="69.5,35.6 70.2,35.7 70.9,35.8 72.5,29.8 71.6,29.5 70.7,29.3" fill="#dce472"/>
<polygon points="70.2,35.7 70.9,35.8 71.5,36.0 73.4,30.1 72.5,29.8 71.6,29.5" fill="#e5e777"/>
<polygon points="70.9,35.8 71.5,36.0 72.2,36.2 74.3,30.4 73.4,30.1 72.5,29.8" fill="#ede97b"/>
<polygon points="71.5,36.0 72.2,36.2 72.9,36.4 75.2,30.8 74.3,30.4 73.4,30.1" fill="#eee77f"/>
<polygon points="72.2,36.2 72.9,36.4 73.5,36.7 76.1,31.2 75.2,30.8 74.3,30.4" fill="#eee383"/>
<polygon points="72.9,36.4 73.5,36.7 74.1,36.9 76.9,31.7 76.1,31.2 75.2,30.8" fill="#eee087"/>
<polygon points="73.5,36.7 74.1,36.9 74.7,37.2 77.7,32.1 76.9,31.7 76.1,31.2" fill="#eedd8b"/>
<polygon points="74.1,36.9 74.7,37.2 75.3,37.5 78.4,32.6 77.7,32.1 76.9,31.7" fill="#edda8f"/>
<polygon points="74.7,37.2 75.3,37.5 75.8,37.8 79.2,33.2 78.4,32.6 77.7,32.1" fill="#edd693"/>
<polygon points="75.3,37.5 75.8,37.8 76.3,38.1 79.9,33.8 79.2,33.2 78.4,32.6" fill="#edd397"/>
<polygon points="75.8,37.8 76.3,38.1 76.8,38.5 80.5,34.4 79.9,33.8 79.2,33.2" fill="#edd09b"/>
<polygon points="76.3,38.1 76.8,38.5 77.3,38.8 81.1,35.0 80.5,34.4 79.9,33.8" fill="#edcc9f"/>
<polygon points="76.8,38.5 77.3,38.8 77.8,39.2 81.6,35.7 81.1,35.0 80.5,34.4" fill="#ecc9a3"/>
<polygon points="77.3,38.8 77.8,39.2 78.2,39.6 82.1,36.5 81.6,35.7 81.1,35.0" fill="#ecc6a7"/>
<polygon points="77.8,39.2 78.2,39.6 78.7,40.0 82.6,37.2 82.1,36.5 81.6,35.7" fill="#ecc3ab"/>
<polygon points="78.2,39.6 78.7,40.0 79.1,40.5 83.0,37.9 82.6,37.2 82.1,36.5" fill="#ecbfaf"/>
<polygon points="78.7,40.0 79.1,40.5 79.5,40.9 83.3,38.7 83.0,37.9 82.6,37.2" fill="#eabdb2"/>
<polygon points="79.1,40.5 79.5,40.9 79.8,41.4 83.7,39.5 83.3,38.7 83.0,37.9" fill="#e7bcb3"/>
<polygon points="79.5,40.9 79.8,41.4 80.2,41.9 83.9,40.3 83.7,39.5 83.3,38.7" fill="#e5bbb4"/>
<polygon points="79.8,41.4 80.2,41.9 80.5,42.5 84.2,41.1 83.9,40.3 83.7,39.5" fill="#e2b9b6"/>
<polygon points="80.2,41.9 80.5,42.5 80.8,43.0 84.4,41.9 84.2,41.1 83.9,40.3" fill="#dfb8b7"/>
<polygon points="80.5,42.5 80.8,43.0 81.1,43.6 84.5,42.7 84.4,41.9 84.2,41.1" fill="#dcb7b8"/>
<polygon points="80.8,43.0 81.1,43.6 81.3,44.3 84.6,43.5 84.5,42.7 84.4,41.9" fill="#d9b6b9"/>
<polygon points="81.1,43.6 81.3,44.3 81.5,44.9 84.7,44.3 84.6,43.5 84.5,42.7" fill="#d6b4bb"/>
<polygon points="81.3,44.3 81.5,44.9 81.7,45.5 84.7,45.1 84.7,44.3 84.6,43.5" fill="#d4b3bc"/>
<polygon points="81.5,44.9 81.7,45.5 81.9,46.1 84.6,46.0 84.7,45.1 84.7,44.3" fill="#d1b2bd"/>
<polygon points="81.7,45.5 81.9,46.1 82.0,46.8 84.5,46.9 84.6,46.0 84.7,45.1" fill="#ceb1be"/>
<polygon points="81.9,46.1 82.0,46.8 82.1,47.6 84.3,47.7 84.5,46.9 84.6,46.0" fill="#cbafc0"/>
<polygon points="82.0,46.8 82.1,47.6 82.2,48.3 84.0,48.5 84.3,47.7 84.5,46.9" fill="#c8aec1"/>
<polygon points="82.1,47.6 82.2,48.3 82.3,49.1 83.8,49.3 84.0,48.5 84.3,47.7" fill="#c5adc2"/>
<polygon points="82.2,48.3 82.3,49.1 82.3,49.8 83.5,50.0 83.8,49.3 84.0,48.5" fill="#c2acc3"/>
<polygon points="82.3,49.1 82.3,49.8 82.4,50.4 83.3,50.5 83.5,50.0 83.8,49.3" fill="#c0abc4"/>
<polygon points="82.3,49.8 82.4,50.4 82.5,50.9 83.1,50.9 83.3,50.5 83.5,50.0" fill="#bda9c6"/>
<polygon points="82.4,50.4 82.5,50.9 82.5,50.9 83.1,50.9 83.1,50.9 83.3,50.5" fill="#baa8c7"/>
<circle cx="48.6" cy="82.0" r="3.4" fill="#42b246"/>
<polygon points="43.3,33.9 43.8,33.5 44.5,32.9 40.1,28.0 39.5,28.5 39.1,28.9" fill="#4270c4"/>
<polygon points="43.8,33.5 44.5,32.9 45.2,32.3 40.8,27.3 40.1,28.0 39.5,28.5" fill="#4270c4"/>
<polygon points="44.5,32.9 45.2,32.3 46.0,31.6 41.6,26.6 40.8,27.3 40.1,28.0" fill="#4270c4"/>
<polygon points="45.2,32.3 46.0,31.6 46.8,30.9 42.6,25.8 41.6,26.6 40.8,27.3" fill="#4270c4"/>
<polygon points="46.0,31.6 46.8,30.9 47.6,30.3 43.6,25.0 42.6,25.8 41.6,26.6" fill="#4270c4"/>
<polygon points="46.8,30.9 47.6,30.3 48.4,29.7 44.6,24.2 43.6,25.0 42.6,25.8" fill="#4270c4"/>
<polygon points="47.6,30.3 48.4,29.7 49.1,29.3 45.7,23.5 44.6,24.2 43.6,25.0" fill="#4270c4"/>
<polygon points="48.4,29.7 49.1,29.3 49.9,28.8 46.7,23.0 45.7,23.5 44.6,24.2" fill="#4270c4"/>
<polygon points="49.1,29.3 49.9,28.8 50.7,28.4 47.8,22.4 46.7,23.0 45.7,23.5" fill="#4170c2"/>
<polygon points="49.9,28.8 50.7,28.4 51.6,28.0 48.9,21.9 47.8,22.4 46.7,23.0" fill="#4174bc"/>
<polygon points="50.7,28.4 51.6,28.0 52.5,27.6 50.0,21.4 48.9,21.9 47.8,22.4" fill="#4078b5"/>
<polygon points="51.6,28.0 52.5,27.6 53.5,27.2 51.1,21.0 50.0,21.4 48.9,21.9" fill="#3f7caf"/>
<polygon points="52.5,27.6 53.5,27.2 54.4,26.9 52.3,20.6 51.1,21.0 50.0,21.4" fill="#3e80a8"/>
<polygon points="53.5,27.2 54.4,26.9 55.4,26.6 53.5,20.2 52.3,20.6 51.1,21.0" fill="#3e84a2"/>
<polygon points="54.4,26.9 55.4,26.6 56.4,26.3 54.6,19.9 53.5,20.2 52.3,20.6" fill="#3d889b"/>
<polygon points="55.4,26.6 56.4,26.3 57.3,26.1 55.8,19.6 54.6,19.9 53.5,20.2" fill="#3c8c95"/>
<polygon points="56.4,26.3 57.3,26.1 58.4,25.9 57.0,19.3 55.8,19.6 54.6,19.9" fill="#3b918e"/>
<polygon points="57.3,26.1 58.4,25.9 59.4,25.7 58.2,19.1 57.0,19.3 55.8,19.6" fill="#3a9587"/>
<polygon points="58.4,25.9 59.4,25.7 60.4,25.5 59.5,18.9 58.2,19.1 57.0,19.3" fill="#3a9981"/>
<polygon points="59.4,25.7 60.4,25.5 61.4,25.4 60.8,18.7 59.5,18.9 58.2,19.1" fill="#3a9c7a"/>
<polygon points="60.4,25.5 61.4,25.4 62.5,25.3 62.1,18.6 60.8,18.7 59.5,18.9" fill="#3b9f73"/>
<polygon points="61.4,25.4 62.5,25.3 63.6,25.3 63.4,18.5 62.1,18.6 60.8,18.7" fill="#3ca26c"/>
<polygon points="62.5,25.3 63.6,25.3 64.7,25.3 64.7,18.5 63.4,18.5 62.1,18.6" fill="#3da465"/>
<polygon points="63.6,25.3 64.7,25.3 65.8,25.3 66.1,18.6 64.7,18.5 63.4,18.5" fill="#3ea75e"/>
<polygon points="64.7,25.3 65.8,25.3 67.1,25.4 67.5,18.6 66.1,18.6 64.7,18.5" fill="#3faa57"/>
<polygon points="65.8,25.3 67.1,25.4 68.3,25.5 68.9,18.7 67.5,18.6 66.1,18.6" fill="#40ad50"/>
<polygon points="67.1,25.4 68.3,25.5 69.6,25.6 70.4,18.9 68.9,18.7 67.5,18.6" fill="#41b049"/>
<polygon points="68.3,25.5 69.6,25.6 70.8,25.8 71.9,19.1 70.4,18.9 68.9,18.7" fill="#45b346"/>
<polygon points="69.6,25.6 70.8,25.8 72.0,26.0 73.3,19.3 71.9,19.1 70.4,18.9" fill="#4eb646"/>
<polygon points="70.8,25.8 72.0,26.0 73.2,26.3 74.8,19.7 73.3,19.3 71.9,19.1" fill="#56b947"/>
<polygon points="72.0,26.0 73.2,26.3 74.3,26.6 76.3,20.0 74.8,19.7 73.3,19.3" fill="#5fbc47"/>
<polygon points="73.2,26.3 74.3,26.6 75.5,26.9 77.7,20.5 76.3,20.0 74.8,19.7" fill="#67bf48"/>
<polygon points="74.3,26.6 75.5,26.9 76.7,27.3 79.1,21.0 77.7,20.5 76.3,20.0" fill="#70c249"/>
<polygon points="75.5,26.9 76.7,27.3 77.9,27.8 80.5,21.6 79.1,21.0 77.7,20.5" fill="#78c549"/>
<polygon points="76.7,27.3 77.9,27.8 79.0,28.3 81.9,22.2 80.5,21.6 79.1,21.0" fill="#81c84a"/>
<polygon points="77.9,27.8 79.0,28.3 80.2,28.9 83.2,22.9 81.9,22.2 80.5,21.6" fill="#89cc4a"/>
<polygon points="79.0,28.3 80.2,28.9 81.2,29.4 84.6,23.6 83.2,22.9 81.9,22.2" fill="#92cf4b"/>
<polygon points="80.2,28.9 81.2,29.4 82.2,30.0 85.8,24.4 84.6,23.6 83.2,22.9" fill="#9ad24c"/>
<polygon points="81.2,29.4 82.2,30.0 83.0,30.6 87.0,25.2 85.8,24.4 84.6,23.6" fill="#a1d34f"/>
<polygon points="82.2,30.0 83.0,30.6 83.8,31.2 88.1,26.1 87.0,25.2 85.8,24.4" fill="#a7d551"/>
<polygon points="83.0,30.6 83.8,31.2 84.4,31.8 89.1,27.0 88.1,26.1 87.0,25.2" fill="#aed754"/>
<polygon points="83.8,31.2 84.4,31.8 85.1,32.4 90.0,28.0 89.1,27.0 88.1,26.1" fill="#b4d957"/>
<polygon points="84.4,31.8 85.1,32.4 85.7,33.1 90.8,29.0 90.0,28.0 89.1,27.0" fill="#bbda5a"/>
<polygon points="85.1,32.4 85.7,33.1 86.2,33.8 91.6,30.0 90.8,29.0 90.0,28.0" fill="#c2dc5d"/>
<polygon points="85.7,33.1 86.2,33.8 86.8,34.6 92.3,31.0 91.6,30.0 90.8,29.0" fill="#c8de60"/>
<polygon points="86.2,33.8 86.8,34.6 87.3,35.4 92.9,32.0 92.3,31.0 91.6,30.0" fill="#cfdf63"/>
<polygon points="86.8,34.6 87.3,35.4 87.7,36.2 93.5,33.0 92.9,32.0 92.3,31.0" fill="#d6e166"/>
<polygon points="87.3,35.4 87.7,36.2 88.1,36.9 94.0,34.1 93.5,33.0 92.9,32.0" fill="#dce369"/>
<polygon points="87.7,36.2 88.1,36.9 88.5,37.8 94.5,35.3 94.0,34.1 93.5,33.0" fill="#dfe16f"/>
<polygon points="88.1,36.9 88.5,37.8 88.8,38.6 95.0,36.5 94.5,35.3 94.0,34.1" fill="#e1dd76"/>
<polygon points="88.5,37.8 88.8,38.6 89.2,39.5 95.3,37.6 95.0,36.5 94.5,35.3" fill="#e2d97e"/>
<polygon points="88.8,38.6 89.2,39.5 89.4,40.5 95.7,38.8 95.3,37.6 95.0,36.5" fill="#e4d586"/>
<polygon points="89.2,39.5 89.4,40.5 89.7,41.4 95.9,39.9 95.7,38.8 95.3,37.6" fill="#e5d18d"/>
<polygon points="89.4,40.5 89.7,41.4 89.9,42.3 96.2,41.0 95.9,39.9 95.7,38.8" fill="#e6cd95"/>
<polygon points="89.7,41.4 89.9,42.3 90.0,43.1 96.4,42.1 96.2,41.0 95.9,39.9" fill="#e8c89d"/>
<polygon points="89.9,42.3 90.0,43.1 90.2,43.9 96.5,43.1 96.4,42.1 96.2,41.0" fill="#e9c4a4"/>
<polygon points="90.0,43.1 90.2,43.9 90.3,44.7 96.6,44.2 96.5,43.1 96.4,42.1" fill="#ebc0ac"/>
<polygon points="90.2,43.9 90.3,44.7 90.3,45.4 96.6,45.2 96.6,44.2 96.5,43.1" fill="#ecbeb2"/>
<polygon points="90.3,44.7 90.3,45.4 90.4,46.2 96.6,46.2 96.6,45.2 96.6,44.2" fill="#ecbeb2"/>
<polygon points="90.3,45.4 90.4,46.2 90.4,46.9 96.5,47.2 96.6,46.2 96.6,45.2" fill="#ecbeb2"/>
<polygon points="90.4,46.2 90.4,46.9 90.4,47.6 96.4,48.2 96.5,47.2 96.6,46.2" fill="#ecbeb2"/>
<polygon points="90.4,46.9 90.4,47.6 90.3,48.3 96.3,49.1 96.4,48.2 96.5,47.2" fill="#ecbeb2"/>
<polygon points="90.4,47.6 90.3,48.3 90.3,49.0 96.1,50.0 96.3,49.1 96.4,48.2" fill="#ecbeb2"/>
<polygon points="90.3,48.3 90.3,49.0 90.2,49.6 95.9,50.9 96.1,50.0 96.3,49.1" fill="#ecbeb2"/>
<polygon points="90.3,49.0 90.2,49.6 90.0,50.2 95.7,51.8 95.9,50.9 96.1,50.0" fill="#ecbeb2"/>
<polygon points="90.2,49.6 90.0,50.2 89.9,50.8 95.4,52.7 95.7,51.8 95.9,50.9" fill="#ecbeb2"/>
<polygon points="90.0,50.2 89.9,50.8 89.7,51.4 95.0,53.5 95.4,52.7 95.7,51.8" fill="#eac1ad"/>
<polygon points="89.9,50.8 89.7,51.4 89.5,52.0 94.7,54.2 95.0,53.5 95.4,52.7" fill="#e8c4a8"/>
<polygon points="89.7,51.4 89.5,52.0 89.3,52.6 94.3,55.0 94.7,54.2 95.0,53.5" fill="#e6c7a3"/>
<polygon points="89.5,52.0 89.3,52.6 89.0,53.2 93.9,55.7 94.3,55.0 94.7,54.2" fill="#e5ca9e"/>
<polygon points="89.3,52.6 89.0,53.2 88.7,53.8 93.5,56.4 93.9,55.7 94.3,55.0" fill="#e3cd99"/>
<polygon points="89.0,53.2 88.7,53.8 88.4,54.4 93.1,57.1 93.5,56.4 93.9,55.7" fill="#e1d194"/>
<polygon points="88.7,53.8 88.4,54.4 88.1,55.0 92.6,57.8 93.1,57.1 93.5,56.4" fill="#e0d48f"/>
<polygon points="88.4,54.4 88.1,55.0 87.7,55.6 92.1,58.5 92.6,57.8 93.1,57.1" fill="#ded78a"/>
<polygon points="88.1,55.0 87.7,55.6 87.3,56.1 91.6,59.2 92.1,58.5 92.6,57.8" fill="#dcda85"/>
<polygon points="87.7,55.6 87.3,56.1 87.0,56.7 91.0,59.9 91.6,59.2 92.1,58.5" fill="#d9db80"/>
<polygon points="87.3,56.1 87.0,56.7 86.6,57.2 90.5,60.6 91.0,59.9 91.6,59.2" fill="#d5db7b"/>
<polygon points="87.0,56.7 86.6,57.2 86.1,57.8 89.9,61.2 90.5,60.6 91.0,59.9" fill="#d1da76"/>
<polygon points="86.6,57.2 86.1,57.8 85.7,58.2 89.3,61.8 89.9,61.2 90.5,60.6" fill="#ceda71"/>
<polygon points="86.1,57.8 85.7,58.2 85.3,58.7 88.6,62.3 89.3,61.8 89.9,61.2" fill="#cada6c"/>
<polygon points="85.7,58.2 85.3,58.7 84.8,59.1 88.0,62.9 88.6,62.3 89.3,61.8" fill="#c6d966"/>
<polygon points="85.3,58.7 84.8,59.1 84.3,59.6 87.3,63.4 88.0,62.9 88.6,62.3" fill="#c2d961"/>
<polygon points="84.8,59.1 84.3,59.6 83.9,60.0 86.6,63.8 87.3,63.4 88.0,62.9" fill="#bed95c"/>
<polygon points="84.3,59.6 83.9,60.0 83.4,60.5 85.9,64.2 86.6,63.8 87.3,63.4" fill="#bad857"/>
<polygon points="83.9,60.0 83.4,60.5 82.9,60.9 85.1,64.6 85.9,64.2 86.6,63.8" fill="#b6d852"/>
<polygon points="83.4,60.5 82.9,60.9 82.4,61.2 84.4,64.9 85.1,64.6 85.9,64.2" fill="#b1d74d"/>
<polygon points="82.9,60.9 82.4,61.2 81.9,61.6 83.7,65.2 84.4,64.9 85.1,64.6" fill="#a6d34d"/>
<polygon points="82.4,61.2 81.9,61.6 81.4,61.8 83.0,65.5 83.7,65.2 84.4,64.9" fill="#9bcf4c"/>
<polygon points="81.9,61.6 81.4,61.8 81.0,62.1 82.2,65.7 83.0,65.5 83.7,65.2" fill="#90cc4b"/>
<polygon points="81.4,61.8 81.0,62.1 80.5,62.3 81.5,65.8 82.2,65.7 83.0,65.5" fill="#85c84a"/>
<polygon points="81.0,62.1 80.5,62.3 80.0,62.5 80.8,65.9 81.5,65.8 82.2,65.7" fill="#7ac449"/>
<polygon points="80.5,62.3 80.0,62.5 79.5,62.7 80.1,66.0 80.8,65.9 81.5,65.8" fill="#6fc149"/>
<polygon points="80.0,62.5 79.5,62.7 79.0,62.9 79.4,66.1 80.1,66.0 80.8,65.9" fill="#64bd48"/>
<polygon points="79.5,62.7 79.0,62.9 78.4,63.0 78.8,66.1 79.4,66.1 80.1,66.0" fill="#59b947"/>
<polygon points="79.0,62.9 78.4,63.0 77.9,63.1 78.1,66.1 78.8,66.1 79.4,66.1" fill="#4eb646"/>
<polygon points="78.4,63.0 77.9,63.1 77.4,63.3 77.3,66.0 78.1,66.1 78.8,66.1" fill="#43b246"/>
<polygon points="77.9,63.1 77.4,63.3 76.8,63.4 76.6,65.8 77.3,66.0 78.1,66.1" fill="#42b246"/>
<polygon points="77.4,63.3 76.8,63.4 76.1,63.5 75.8,65.6 76.6,65.8 77.3,66.0" fill="#42b246"/>
<polygon points="76.8,63.4 76.1,63.5 75.4,63.5 75.1,65.3 75.8,65.6 76.6,65.8" fill="#42b246"/>
<polygon points="76.1,63.5 75.4,63.5 74.7,63.6 74.5,65.1 75.1,65.3 75.8,65.6" fill="#42b246"/>
<polygon points="75.4,63.5 74.7,63.6 74.1,63.6 73.9,64.8 74.5,65.1 75.1,65.3" fill="#42b246"/>
<polygon points="74.7,63.6 74.1,63.6 73.5,63.7 73.4,64.6 73.9,64.8 74.5,65.1" fill="#42b246"/>
<polygon points="74.1,63.6 73.5,63.7 73.1,63.8 73.1,64.4 73.4,64.6 73.9,64.8" fill="#42b246"/>
<polygon points="73.5,63.7 73.1,63.8 73.1,63.8 73.1,64.4 73.1,64.4 73.4,64.6" fill="#42b246"/>
<circle cx="41.2" cy="31.4" r="3.3" fill="#4270c4"/>
<path d="M128.3 36.1 H135.6 V76.7 H128.3 Z M117.0 59.3 H129 V66.0 H113.4 Z" fill="#3e70bc"/>
<text transform="translate(137.8,64.6) scale(0.935,1)" font-family="Liberation Sans, sans-serif" font-weight="bold" font-style="italic" font-size="45" fill="#3e70bc" stroke="#3e70bc" stroke-width="0.7">u</text><text transform="translate(161.2,64.6) scale(0.935,1)" font-family="Liberation Sans, sans-serif" font-weight="bold" font-style="italic" font-size="45" fill="#3e70bc" stroke="#3e70bc" stroke-width="0.7">r</text><text transform="translate(177.3,64.6) scale(0.95,1)" font-family="Liberation Sans, sans-serif" font-weight="bold" font-style="italic" font-size="45" fill="#3e70bc" stroke="#3e70bc" stroke-width="0.7">o</text><text transform="translate(202.4,64.6) scale(0.95,1)" font-family="Liberation Sans, sans-serif" font-weight="bold" font-style="italic" font-size="45" fill="#3e70bc" stroke="#3e70bc" stroke-width="0.7">r</text><text transform="translate(221.6,64.6) scale(1.045,1)" font-family="Liberation Sans, sans-serif" font-weight="bold" font-style="italic" font-size="45" fill="#3e70bc" stroke="#3e70bc" stroke-width="0.7">a</text>
<text x="139.8" y="76.6" font-family="Liberation Sans, sans-serif" font-size="9.8" fill="#4aaaa0" textLength="82.5" lengthAdjust="spacingAndGlyphs" opacity="0.9">Innovation Textile Solutions</text>
</g>
</svg>
<div id="doc">
<div class="t b r" style="right:11.50px;top:55.70px;letter-spacing:0.09px;">Earnings Statement</div>
<div class="t" style="left:21.90px;top:95.90px;letter-spacing:0.03px;">2705 N Bridge St, Yorkville, IL 60560, United States</div>
<div class="t" style="left:21.90px;top:109.10px;letter-spacing:-0.1px;">+1 800-864-0303</div>
<div class="t" style="left:21.30px;top:150.90px;letter-spacing:0px;">John Citizen</div>
<div class="t" style="left:21.30px;top:164.20px;letter-spacing:0px;">SSN: ***_**_1234</div>
<div class="t" style="left:21.30px;top:177.50px;letter-spacing:-0.3px;">123&nbsp; Any street</div>
<div class="t" style="left:21.30px;top:190.80px;letter-spacing:0px;">Any town</div>
<div class="t" style="left:489.80px;top:150.60px;letter-spacing:0.08px;">Period Beginning:</div>
<div class="t r" style="right:10.80px;top:150.60px;">Nov 17, 2022</div>
<div class="t" style="left:489.80px;top:163.75px;letter-spacing:0.08px;">Period Ending:</div>
<div class="t r" style="right:10.80px;top:163.75px;">Dec 01, 2022</div>
<div class="t" style="left:489.80px;top:176.90px;letter-spacing:0.08px;">Pay Day:</div>
<div class="t r" style="right:10.80px;top:176.90px;">Nov 30, 2022</div>
<div class="t" style="left:489.80px;top:190.05px;letter-spacing:0.08px;">Net Pay:</div>
<div class="t r" style="right:10.80px;top:190.05px;">$3,147.90</div>
<div class="ln" style="left:13px;width:374px;top:260.8px"></div>
<div class="ln k" style="left:13px;width:374px;top:283.0px"></div>
<div class="ln" style="left:13px;width:374px;top:311.8px"></div>
<div class="ln" style="left:13px;width:374px;top:341.8px"></div>
<div class="ln" style="left:13px;width:374px;top:364.0px"></div>
<div class="ln" style="left:13px;width:374px;top:392.8px"></div>
<div class="ln" style="left:13px;width:374px;top:416.8px"></div>
<div class="ln k" style="left:13px;width:374px;top:446.2px"></div>
<div class="ln" style="left:13px;width:374px;top:475.4px"></div>
<div class="ln k" style="left:13px;width:374px;top:496.0px"></div>
<div class="ln k" style="left:13px;width:374px;top:521.0px"></div>
<div class="ln" style="left:13px;width:374px;top:543.8px"></div>
<div class="ln" style="left:13px;width:374px;top:573.8px"></div>
<div class="ln k" style="left:13px;width:374px;top:596.0px"></div>
<div class="ln k" style="left:13px;width:374px;top:627.0px"></div>
<div class="ln" style="left:13px;width:374px;top:649.8px"></div>
<div class="ln" style="left:13px;width:374px;top:672.8px"></div>
<div class="ln" style="left:13px;width:374px;top:713.8px"></div>
<div class="ln" style="left:13px;width:374px;top:741.8px"></div>
<div class="ln" style="left:13px;width:374px;top:757.0px"></div>
<div class="ln" style="left:13px;width:374px;top:786.0px"></div>
<div class="t b" style="left:21.00px;top:265.50px;">EARNINGS</div>
<div class="t b r" style="right:547.00px;top:265.50px;">HOURS</div>
<div class="t b r" style="right:495.00px;top:265.50px;">RATE</div>
<div class="t b r" style="right:401.00px;top:265.50px;">CURRENT</div>
<div class="t b r" style="right:342.30px;top:265.50px;letter-spacing:-2.3px;">YTD</div>
<div class="t" style="left:21.00px;top:290.90px;">Holiday</div>
<div class="t r" style="right:547.00px;top:290.90px;">16.00</div>
<div class="t r" style="right:495.00px;top:290.90px;">38.46</div>
<div class="t r" style="right:400.50px;top:290.90px;">615.38</div>
<div class="t r" style="right:340.00px;top:290.90px;">923.07</div>
<div class="t" style="left:21.00px;top:314.30px;">Regular</div>
<div class="t" style="left:21.00px;top:327.50px;">Earnings</div>
<div class="t" style="left:21.00px;top:320.90px;"></div>
<div class="t r" style="right:547.00px;top:320.90px;">70.67</div>
<div class="t r" style="right:495.00px;top:320.90px;">38.46</div>
<div class="t r" style="right:400.50px;top:320.90px;">2,717.95</div>
<div class="t r" style="right:340.00px;top:320.90px;">9,076.92</div>
<div class="t" style="left:21.00px;top:346.90px;">Total</div>
<div class="t r" style="right:400.50px;top:346.90px;">3,333.33</div>
<div class="t r" style="right:340.00px;top:346.90px;">9,999.99</div>
<div class="t b" style="left:21.00px;top:378.90px;">Reimbursements</div>
<div class="t" style="left:21.00px;top:398.70px;">There are no reimbursements.</div>
<div class="t b" style="left:21.00px;top:461.50px;">Deductions</div>
<div class="t" style="left:21.00px;top:478.90px;">Dental Insurance</div>
<div class="t r" style="right:395.00px;top:478.90px;">7.52</div>
<div class="t r" style="right:340.00px;top:478.90px;">22.56</div>
<div class="t" style="left:21.00px;top:502.90px;">Flex Spending Account</div>
<div class="t r" style="right:395.00px;top:502.90px;">39.00</div>
<div class="t r" style="right:340.00px;top:502.90px;">117.00</div>
<div class="t" style="left:21.00px;top:526.90px;">Flex Spending Account Dependent</div>
<div class="t r" style="right:395.00px;top:526.90px;">76.04</div>
<div class="t r" style="right:340.00px;top:526.90px;">228.12</div>
<div class="t" style="left:21.00px;top:552.50px;">Medical Insurance</div>
<div class="t r" style="right:395.00px;top:552.50px;">39.32</div>
<div class="t r" style="right:340.00px;top:552.50px;">117.96</div>
<div class="t" style="left:21.00px;top:578.90px;">Parking Commuter Benefits-Pre</div>
<div class="t r" style="right:395.00px;top:578.90px;">7.00</div>
<div class="t r" style="right:340.00px;top:578.90px;">21.00</div>
<div class="t" style="left:21.00px;top:605.30px;">Transit Commuter Benefits-Pre</div>
<div class="t r" style="right:395.00px;top:605.30px;">11.50</div>
<div class="t r" style="right:340.00px;top:605.30px;">34.50</div>
<div class="t" style="left:21.00px;top:632.50px;">Vision Insurance</div>
<div class="t r" style="right:395.00px;top:632.50px;">5.05</div>
<div class="t r" style="right:340.00px;top:632.50px;">15.15</div>
<div class="t b" style="left:21.00px;top:655.50px;">Total</div>
<div class="t b r" style="right:395.00px;top:655.50px;">185.43</div>
<div class="t b r" style="right:340.00px;top:655.50px;">556.29</div>
<div class="t b" style="left:21.00px;top:700.50px;">Taxes</div>
<div class="t b" style="left:21.00px;top:721.30px;">There are no employee taxes.</div>
<div class="t b" style="left:21.00px;top:764.90px;">Net Pay</div>
<div class="t b r" style="right:399.80px;top:764.90px;">3,147.90</div>
<div class="t b r" style="right:340.00px;top:764.90px;">9,443.70</div>
<div class="ln" style="left:403px;width:310px;top:260.8px"></div>
<div class="ln k" style="left:403px;width:310px;top:283.0px"></div>
<div class="ln" style="left:403px;width:310px;top:311.8px"></div>
<div class="ln" style="left:403px;width:310px;top:341.8px"></div>
<div class="ln" style="left:403px;width:310px;top:364.0px"></div>
<div class="ln" style="left:403px;width:310px;top:392.8px"></div>
<div class="ln" style="left:403px;width:310px;top:416.8px"></div>
<div class="ln k" style="left:403px;width:310px;top:446.2px"></div>
<div class="ln" style="left:403px;width:310px;top:475.4px"></div>
<div class="ln k" style="left:403px;width:310px;top:496.0px"></div>
<div class="ln k" style="left:403px;width:310px;top:521.0px"></div>
<div class="ln k" style="left:403px;width:310px;top:596.0px"></div>
<div class="t b" style="left:409.00px;top:265.50px;letter-spacing:0.07px;">Employer Contributions</div>
<div class="t" style="left:409.00px;top:283.50px;letter-spacing:-0.18px;">Accidental&nbsp; Death and</div>
<div class="t" style="left:409.00px;top:297.90px;">Dismemberment insurance</div>
<div class="t r" style="right:72.50px;top:290.90px;">65.35</div>
<div class="t r" style="right:11.50px;top:290.90px;">196.65</div>
<div class="t" style="left:409.00px;top:320.50px;">Dental Insurance</div>
<div class="t r" style="right:72.50px;top:320.50px;">30.09</div>
<div class="t r" style="right:11.50px;top:320.50px;">90.27</div>
<div class="t" style="left:409.00px;top:346.90px;">Flex Spending Account</div>
<div class="t r" style="right:72.50px;top:346.90px;">39.00</div>
<div class="t r" style="right:11.50px;top:346.90px;">117.00</div>
<div class="t" style="left:409.00px;top:371.90px;">Flex Spending Account Dependent</div>
<div class="t r" style="right:72.50px;top:371.90px;">83.33</div>
<div class="t r" style="right:11.50px;top:371.90px;">249.99</div>
<div class="t" style="left:409.00px;top:398.30px;">Medical Insurance</div>
<div class="t r" style="right:72.50px;top:398.30px;">157.29</div>
<div class="t r" style="right:11.50px;top:398.30px;">471.87</div>
<div class="t" style="left:409.00px;top:418.90px;">Parking Commuter Benefits-Pre</div>
<div class="t" style="left:409.00px;top:432.90px;">Tax</div>
<div class="t r" style="right:72.50px;top:425.90px;">12.50</div>
<div class="t r" style="right:11.50px;top:425.90px;">37.50</div>
<div class="t" style="left:409.00px;top:446.50px;">Transit Commuter Benefits-Pre</div>
<div class="t" style="left:409.00px;top:460.90px;">Tax</div>
<div class="t r" style="right:72.50px;top:453.90px;">12.50</div>
<div class="t r" style="right:11.50px;top:453.90px;">37.50</div>
<div class="t" style="left:409.00px;top:478.90px;">Vision Insurance</div>
<div class="t r" style="right:72.50px;top:478.90px;">20.20</div>
<div class="t r" style="right:11.50px;top:478.90px;">60.60</div>
<div class="t b" style="left:409.00px;top:502.50px;">Total</div>
<div class="t b r" style="right:72.50px;top:502.50px;">420.46</div>
<div class="t b r" style="right:11.50px;top:502.50px;">1,261.38</div>
<div class="t b" style="left:409.00px;top:578.90px;">Notes</div>
</div>
<svg width="720" height="1000" viewBox="0 0 720 1000" style="left:0;top:0">
<defs><clipPath id="cap"><rect x="300" y="919.0" width="420" height="41.700000000000045"/></clipPath>
<filter id="wb" x="-2%" y="-10%" width="104%" height="120%"><feGaussianBlur stdDeviation="0.45"/></filter></defs>
<g filter="url(#wb)">
<path fill="none" stroke="#2556b6" stroke-width="3.9" stroke-linecap="round" stroke-linejoin="round" d="M309.9 958.75 V920.95 L327.45 944.9 L345.0 920.95 V958.75" />
<path fill="none" stroke="#2556b6" stroke-width="3.9" stroke-linecap="round" stroke-linejoin="round" d="M358.1 958.75 L376.1 921.5500000000001 L394.2 958.75 M363.69 947.2 H388.58" />
<path fill="none" stroke="#2556b6" stroke-width="5.6" stroke-linecap="butt" stroke-linejoin="miter" d="M408.40000000000003 966V914" clip-path="url(#cap)"/>
<path fill="#2556b6" fill-rule="evenodd" clip-path="url(#cap)" d="M408 919.0 H420.1 A12.5 12.5 0 0 1 420.1 944 H408 Z M411.2 924.0 H419.6 A7.4 7.25 0 0 1 419.6 938.5 H411.2 Z"/>
<path fill="none" stroke="#2556b6" stroke-width="6.2" stroke-linecap="butt" stroke-linejoin="miter" d="M419.4 941.2 L436.4 966.2" clip-path="url(#cap)"/>
<path fill="none" stroke="#2556b6" stroke-width="5.6" stroke-linecap="butt" stroke-linejoin="miter" d="M447.0 966V914" clip-path="url(#cap)"/>
<rect x="447.0" y="919.0" width="19.70" height="5.9" fill="#2556b6"/>
<rect x="447.0" y="937.9" width="18.00" height="6.0" fill="#2556b6"/>
<path fill="none" stroke="#2556b6" stroke-width="5.0" stroke-linecap="round" stroke-linejoin="round" d="M478.5 921.3 V958.4000000000001" />
<path fill="none" stroke="#2556b6" stroke-width="6.2" stroke-linecap="butt" d="M514.0 926.4 C511.4 923.0 507.6 921.3 503.4 921.3 C497.4 921.3 493.4 925.0 493.4 929.8 C493.4 935.0 497.2 937.4 503.4 939.3 C510.0 941.3 513.8 943.8 513.8 949.4 C513.8 954.6 509.6 958.2 503.6 958.2 C498.6 958.2 494.6 956.2 491.8 952.4"/>
<path fill="none" stroke="#2556b6" stroke-width="4.3" stroke-linecap="round" stroke-linejoin="round" d="M524.5 958.5500000000001 L543.2 921.75 L559.9 958.5500000000001 M530.12 947.5 H554.89" />
<circle cx="572.7" cy="956.2" r="4.5" fill="#2556b6"/>
<ellipse cx="604.15" cy="939.55" rx="17.75" ry="17.90" fill="none" stroke="#2556b6" stroke-width="7.1"/>
<path fill="none" stroke="#2556b6" stroke-width="7.0" stroke-linecap="butt" stroke-linejoin="miter" d="M637.4 966V914" clip-path="url(#cap)"/>
<path fill="#2556b6" fill-rule="evenodd" clip-path="url(#cap)" d="M637 919.0 H649.2 A12.2 12.35 0 0 1 649.2 943.7 H637 Z M640.8 926.1 H648.0 A5.7 5.85 0 0 1 648.0 937.8 H640.8 Z"/>
<path fill="none" stroke="#2556b6" stroke-width="7.0" stroke-linecap="butt" stroke-linejoin="miter" d="M647.0 940.6 L664.6 965.2" clip-path="url(#cap)"/>
<path fill="none" stroke="#2556b6" stroke-width="7.1" stroke-linejoin="miter" d="M700.90 924.98 A17.70 17.70 0 1 0 702.35 953.01 V941.5 H689.6"/>
<rect x="307.8" y="968.5" width="397.6" height="5.1" fill="#f25c66"/>
</g></svg>
</body></html>
